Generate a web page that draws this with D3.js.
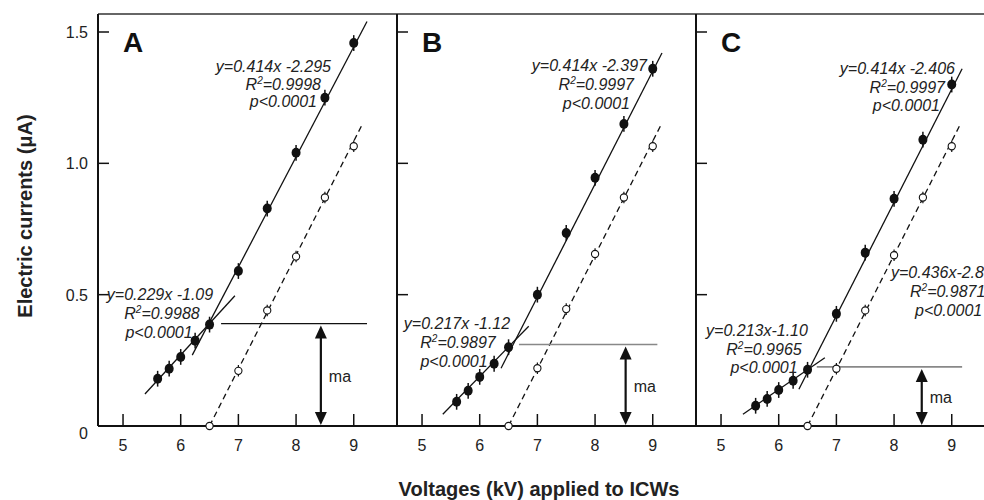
<!DOCTYPE html>
<html>
<head>
<meta charset="utf-8">
<script src="https://cdn.jsdelivr.net/npm/d3@7"></script>
<style>
body { margin: 0; background: #fff; }
svg { display: block; font-family: "Liberation Sans", Arial, sans-serif; }
</style>
</head>
<body>
<svg width="984" height="500"></svg>
<script>

// ---- data ----
const panelNames = ['A', 'B', 'C']
const xTicks = [5, 6, 7, 8, 9]
const yTicks = [0, 0.5, 1.0, 1.5]
const yTickLabels = ['0', '0.5', '1.0', '1.5']

// filled points (with the preceding step)
const voltsFilled = [5.6, 5.8, 6.0, 6.25, 6.5, 7.0, 7.5, 8.0, 8.5, 9.0]
const currentA = [0.18, 0.218, 0.263, 0.325, 0.386, 0.59, 0.828, 1.04, 1.25, 1.458]
const currentB = [0.092, 0.134, 0.187, 0.237, 0.30, 0.50, 0.735, 0.945, 1.15, 1.36]
const currentC = [0.077, 0.103, 0.137, 0.172, 0.214, 0.427, 0.66, 0.865, 1.09, 1.30]
const errFilled = [0.03, 0.03, 0.03, 0.03, 0.03, 0.03, 0.03, 0.03, 0.03, 0.03]

// open points
const voltsOpen = [6.5, 7.0, 7.5, 8.0, 8.5, 9.0]
const openA = [0, 0.21, 0.44, 0.645, 0.87, 1.065]
const openB = [0, 0.22, 0.445, 0.655, 0.87, 1.065]
const openC = [0, 0.218, 0.44, 0.65, 0.87, 1.065]
const errOpen = [0, 0.022, 0.022, 0.022, 0.022, 0.022]

// fitted segments [x, y] start / end
const steepA = [[6.2, 0.27], [9.23, 1.54]]
const steepB = [[6.37, 0.22], [9.16, 1.42]]
const steepC = [[6.35, 0.14], [9.18, 1.36]]
const shallowA = [[5.38, 0.122], [6.94, 0.496]]
const shallowB = [[5.36, 0.045], [6.85, 0.38]]
const shallowC = [[5.38, 0.045], [6.8, 0.26]]
const dashedFit = [[6.5, 0], [9.14, 1.145]]

// ma level, horizontal line start/end and arrow position
const maLevel = [0.39, 0.31, 0.225]
const maStart = [6.7, 6.68, 6.66]
const maEnd = [9.23, 9.08, 9.18]
const maArrowX = [8.43, 8.53, 8.48]

// equations
const eqSteep = [
    ['y=0.414x -2.295', 'R²=0.9998', 'p<0.0001'],
    ['y=0.414x -2.397', 'R²=0.9997', 'p<0.0001'],
    ['y=0.414x -2.406', 'R²=0.9997', 'p<0.0001']
]
const eqShallow = [
    ['y=0.229x -1.09', 'R²=0.9988', 'p<0.0001'],
    ['y=0.217x -1.12', 'R²=0.9897', 'p<0.0001'],
    ['y=0.213x-1.10', 'R²=0.9965', 'p<0.0001']
]
const eqDashedC = ['y=0.436x-2.83', 'R²=0.9871', 'p<0.0001']


// ---- layout ----
const panelLeft = [98, 397, 696]
const panelW = 299
const topY = 14
const baseY = 426

// text placement in pixels relative to the panel's left edge
const steepPos = [
    { anchor: 'end', x: [233, 223, 219], y: [72, 90, 107] },
    { anchor: 'end', x: [250, 237, 233], y: [71, 90, 109] },
    { anchor: 'end', x: [259, 249, 244], y: [74, 93, 111] }
]
const shallowPos = [
    { anchor: 'middle', x: [62, 64, 61], y: [300, 319, 338] },
    { anchor: 'middle', x: [60, 61, 57], y: [329, 348, 367] },
    { anchor: 'middle', x: [61, 68, 68], y: [336, 355, 373] }
]
const dashedPosC = { anchor: 'start', x: [195, 214, 219], y: [278, 297, 316] }

const svg = d3.select('svg')

const x = d3.scaleLinear()
    .domain([4.566, 9.75])
    .range([0, panelW])

const y = d3.scaleLinear()
    .domain([0, 1.5])
    .range([baseY, 32])

const line = d3.line()
    .x(d => x(d[0]))
    .y(d => y(d[1]))

const filledData = [currentA, currentB, currentC]
const openData = [openA, openB, openC]
const steepData = [steepA, steepB, steepC]
const shallowData = [shallowA, shallowB, shallowC]


// frame: top border and baseline run across all panels
svg.append('line')
    .attr('x1', panelLeft[0]).attr('x2', 984)
    .attr('y1', topY).attr('y2', topY)
    .attr('stroke', '#333').attr('stroke-width', 1.5)

svg.append('line')
    .attr('x1', panelLeft[0]).attr('x2', 984)
    .attr('y1', baseY).attr('y2', baseY)
    .attr('stroke', '#111').attr('stroke-width', 2)


function eqText(g, lines, pos) {
    lines.forEach((s, i) => {
        const t = g.append('text')
            .attr('x', pos.x[i])
            .attr('y', pos.y[i])
            .attr('text-anchor', pos.anchor)
            .attr('font-size', 16)
            .attr('font-style', 'italic')
            .attr('fill', '#222')
        const parts = s.split('²')
        t.append('tspan').text(parts[0])
        if (parts.length > 1) {
            t.append('tspan').attr('font-size', 10).attr('dy', -6).text('2')
            t.append('tspan').attr('dy', 6).text(parts[1])
        }
    })
}


panelNames.forEach((name, p) => {
    const g = svg.append('g')
        .attr('transform', `translate(${panelLeft[p]},0)`)

    // left axis line
    g.append('line')
        .attr('x1', 0).attr('x2', 0)
        .attr('y1', topY).attr('y2', baseY)
        .attr('stroke', '#111').attr('stroke-width', 2)

    // y ticks point inward
    g.selectAll('.ytick')
        .data(yTicks.slice(1))
        .enter().append('line')
        .attr('x1', 0).attr('x2', 11)
        .attr('y1', d => y(d)).attr('y2', d => y(d))
        .attr('stroke', '#111').attr('stroke-width', 1.5)

    // x ticks point up
    g.selectAll('.xtick')
        .data(xTicks)
        .enter().append('line')
        .attr('x1', d => x(d)).attr('x2', d => x(d))
        .attr('y1', baseY).attr('y2', baseY - 12)
        .attr('stroke', '#111').attr('stroke-width', 1.5)

    g.selectAll('.xlab')
        .data(xTicks)
        .enter().append('text')
        .attr('x', d => x(d))
        .attr('y', baseY + 25)
        .attr('text-anchor', 'middle')
        .attr('font-size', 16)
        .attr('fill', '#222')
        .text(d => d)

    if (p === 0) {
        g.selectAll('.ylab')
            .data(yTicks)
            .enter().append('text')
            .attr('x', -10)
            .attr('y', (d, i) => y(d) + (i === 0 ? 13 : 6))
            .attr('text-anchor', 'end')
            .attr('font-size', 16)
            .attr('fill', '#222')
            .text((d, i) => yTickLabels[i])
    }

    // panel letter
    g.append('text')
        .attr('x', 25).attr('y', 52)
        .attr('font-size', 28)
        .attr('font-weight', 'bold')
        .attr('fill', '#111')
        .text(name)

    // fitted lines
    g.append('path')
        .attr('d', line(steepData[p]))
        .attr('fill', 'none').attr('stroke', '#111').attr('stroke-width', 1.3)
    g.append('path')
        .attr('d', line(shallowData[p]))
        .attr('fill', 'none').attr('stroke', '#111').attr('stroke-width', 1.3)
    g.append('path')
        .attr('d', line(dashedFit))
        .attr('fill', 'none').attr('stroke', '#111').attr('stroke-width', 1.3)
        .attr('stroke-dasharray', '6,4')

    // ma line and arrow
    g.append('line')
        .attr('x1', x(maStart[p])).attr('x2', x(maEnd[p]))
        .attr('y1', y(maLevel[p])).attr('y2', y(maLevel[p]))
        .attr('stroke', p === 0 ? '#111' : '#888').attr('stroke-width', p === 0 ? 1.2 : 1.6)

    const ax = x(maArrowX[p])
    const ay0 = y(maLevel[p]) + 2
    const ay1 = baseY - 1
    g.append('line')
        .attr('x1', ax).attr('x2', ax)
        .attr('y1', ay0 + 10).attr('y2', ay1 - 10)
        .attr('stroke', '#111').attr('stroke-width', 2.2)
    g.append('path')
        .attr('d', `M${ax},${ay0}L${ax - 6},${ay0 + 13}L${ax + 6},${ay0 + 13}Z`)
        .attr('fill', '#111')
    g.append('path')
        .attr('d', `M${ax},${ay1}L${ax - 6},${ay1 - 13}L${ax + 6},${ay1 - 13}Z`)
        .attr('fill', '#111')
    g.append('text')
        .attr('x', ax + 8)
        .attr('y', (y(maLevel[p]) + baseY) / 2 + 7)
        .attr('font-size', 16)
        .attr('fill', '#222')
        .text('ma')

    // error bars
    g.selectAll('.errF')
        .data(voltsFilled)
        .enter().append('line')
        .attr('x1', d => x(d)).attr('x2', d => x(d))
        .attr('y1', (d, i) => y(filledData[p][i] - errFilled[i]))
        .attr('y2', (d, i) => y(filledData[p][i] + errFilled[i]))
        .attr('stroke', '#111').attr('stroke-width', 1.5)
    g.selectAll('.errO')
        .data(voltsOpen)
        .enter().append('line')
        .attr('x1', d => x(d)).attr('x2', d => x(d))
        .attr('y1', (d, i) => y(openData[p][i] - errOpen[i]))
        .attr('y2', (d, i) => y(openData[p][i] + errOpen[i]))
        .attr('stroke', '#111').attr('stroke-width', 1.2)

    // points
    g.selectAll('.filled')
        .data(voltsFilled)
        .enter().append('ellipse')
        .attr('cx', d => x(d))
        .attr('cy', (d, i) => y(filledData[p][i]))
        .attr('rx', 4.5).attr('ry', 5)
        .attr('fill', '#111')
    g.selectAll('.open')
        .data(voltsOpen)
        .enter().append('circle')
        .attr('cx', d => x(d))
        .attr('cy', (d, i) => y(openData[p][i]))
        .attr('r', 3.6)
        .attr('fill', '#fff')
        .attr('stroke', '#111').attr('stroke-width', 1.1)

    // equations
    eqText(g, eqSteep[p], steepPos[p])
    eqText(g, eqShallow[p], shallowPos[p])
    if (p === 2) eqText(g, eqDashedC, dashedPosC)
})


// axis titles
svg.append('text')
    .attr('x', 539).attr('y', 496)
    .attr('text-anchor', 'middle')
    .attr('font-size', 20)
    .attr('font-weight', 'bold')
    .attr('fill', '#222')
    .text('Voltages (kV) applied to ICWs')

svg.append('text')
    .attr('transform', 'translate(32,216) rotate(-90)')
    .attr('text-anchor', 'middle')
    .attr('font-size', 20)
    .attr('font-weight', 'bold')
    .attr('fill', '#222')
    .text('Electric currents (μA)')

</script>
</body>
</html>
